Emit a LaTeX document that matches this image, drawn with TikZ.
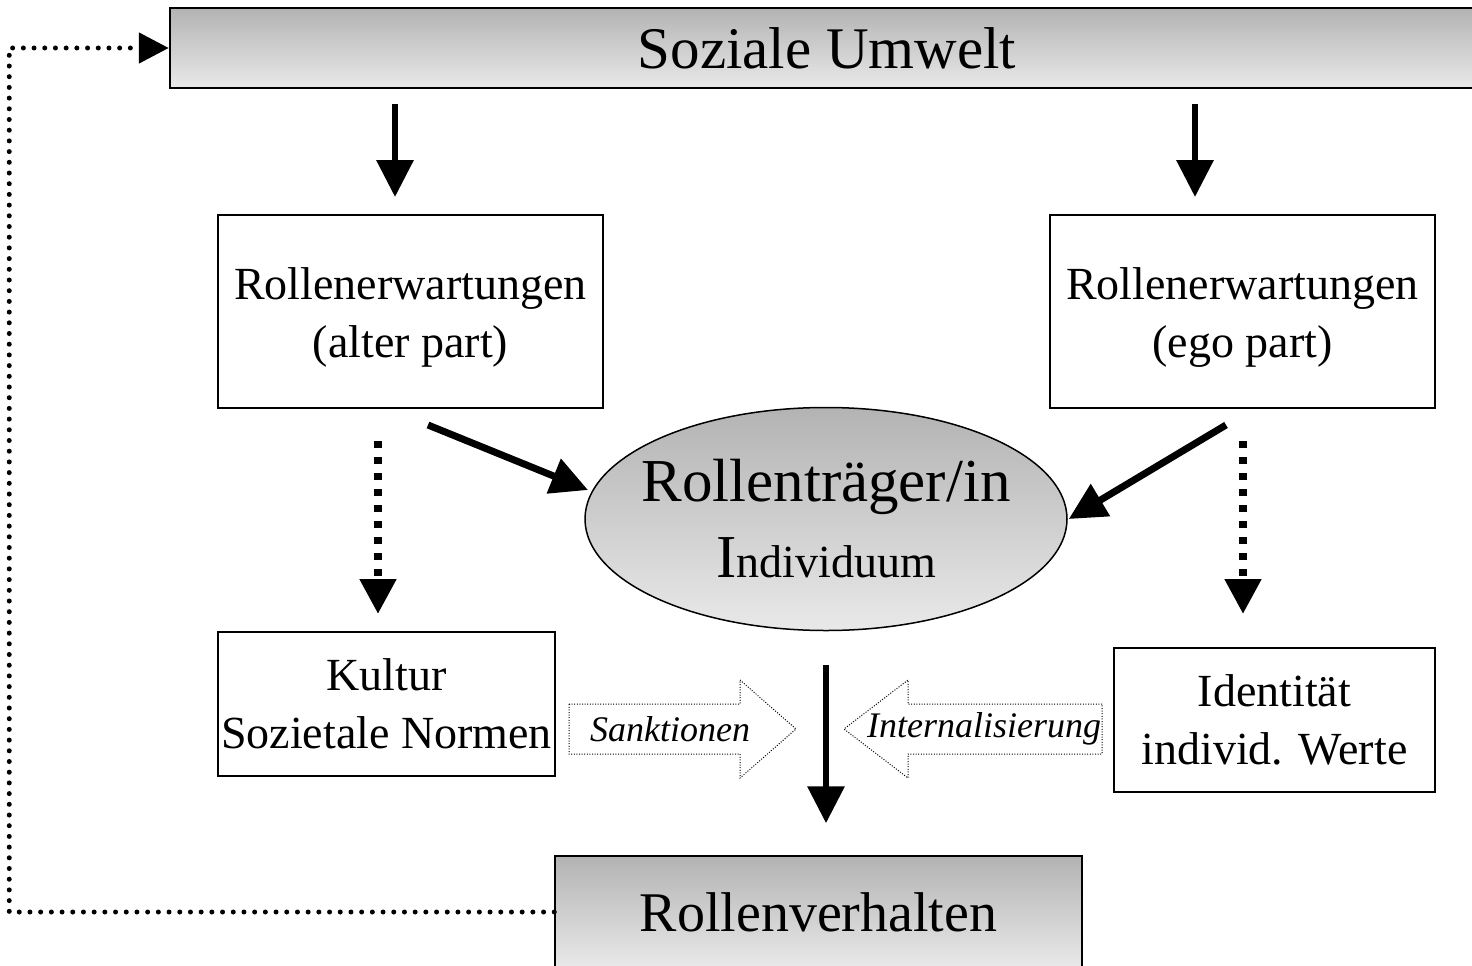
\documentclass[tikz,border=0pt]{standalone}
\usepackage{fontspec}
\setmainfont{Liberation Serif}
\usetikzlibrary{arrows.meta,shapes.geometric,calc}
\definecolor{gtop}{HTML}{B3B3B3}
\definecolor{gbot}{HTML}{E9E9E9}
\begin{document}
\begin{tikzpicture}[x=1pt,y=-1pt,
 box/.style={draw,line width=2pt,rectangle,inner sep=0pt,align=center,font=\fontsize{46}{58}\selectfont},
 grad/.style={top color=gtop,bottom color=gbot},
 bigarrow/.style={line width=6.5pt,-{Triangle[length=37pt,width=36pt]}},
 dotarrow/.style={line width=8pt,dash pattern=on 7pt off 9pt,-{Triangle[length=35pt,width=35pt]}},
 fbline/.style={line width=5pt,line cap=round,dash pattern=on 0pt off 10.7pt,-{Triangle[length=30pt,width=30pt]}},
 hollow/.style={line width=1pt,dash pattern=on 1pt off 1.6pt},
 lbl/.style={font=\fontsize{36}{40}\selectfont\itshape,inner sep=0pt}]

\useasboundingbox (0,0) rectangle (1472,966);
\clip (0,0) rectangle (1472,966);

\node[box,grad,line width=2.5pt,minimum width=1314pt,minimum height=80pt,font=\fontsize{59}{60}\selectfont] (sozial) at (827,48) {Soziale Umwelt};
\node[box,minimum width=385pt,minimum height=193pt] (alter) at (410.5,311.5) {\rule{0pt}{44pt}Rollenerwartungen\\(alter part)};
\node[box,minimum width=385pt,minimum height=193pt] (ego) at (1242.5,311.5) {\rule{0pt}{44pt}Rollenerwartungen\\(ego part)};
\node[draw,ellipse,grad,line width=1.5pt,minimum width=482pt,minimum height=223pt,inner sep=0pt] (ell) at (826,519) {};
\node[inner sep=0pt,align=center,font=\fontsize{61}{76}\selectfont] (elltext) at (ell.center) {Rollenträger/in\\I{\fontsize{46}{76}\selectfont ndividuum}};
\node[box,minimum width=337pt,minimum height=144pt] (kultur) at (386.5,704) {Kultur\\Sozietale Normen};
\node[box,minimum width=321pt,minimum height=144pt] (ident) at (1274.5,720) {Identität\\individ. Werte};
\node[box,grad,line width=1.5pt,minimum width=527pt,minimum height=112pt,font=\fontsize{56}{60}\selectfont] (verh) at (818.5,912) {Rollenverhalten};

\draw[hollow] (569,704) -- (740,704) -- (740,680) -- (796,729) -- (740,778) -- (740,754) -- (569,754) -- cycle;
\node[lbl] (sank) at (670,729) {Sanktionen};
\draw[hollow] (1102,704) -- (908,704) -- (908,680) -- (844,729) -- (908,778) -- (908,754) -- (1102,754) -- cycle;
\node[lbl] (intern) at (984,729) {Internalisierung};

\draw[bigarrow] ($(sozial.south -| alter.north)+(-15.5pt,-15pt)$) -- ($(alter.north)+(-15.5pt,17pt)$);
\draw[bigarrow] ($(sozial.south -| ego.north)+(-47.5pt,-15pt)$) -- ($(ego.north)+(-47.5pt,17pt)$);
\draw[bigarrow,line width=7pt] ($(alter.south)+(17.5pt,-16pt)$) -- ($(ell.center)+(-238pt,29pt)$);
\draw[bigarrow,line width=7pt] ($(ego.south)+(-16.5pt,-16pt)$) -- ($(ell.east)+(1pt,0pt)$);
\draw[dotarrow] ($(alter.south)+(-32.5pt,-32pt)$) -- ($(kultur.north)+(-8.5pt,17pt)$);
\draw[dotarrow] ($(ego.south)+(0.5pt,-32pt)$) -- ($(ident.north)+(-31.5pt,33pt)$);
\draw[bigarrow] ($(ell.south)+(0pt,-33.5pt)$) -- ($(verh.north)+(7.5pt,32pt)$);
\draw[fbline] (verh.west) -- ++(-545,0) |- (sozial.west);
\end{tikzpicture}
\end{document}
